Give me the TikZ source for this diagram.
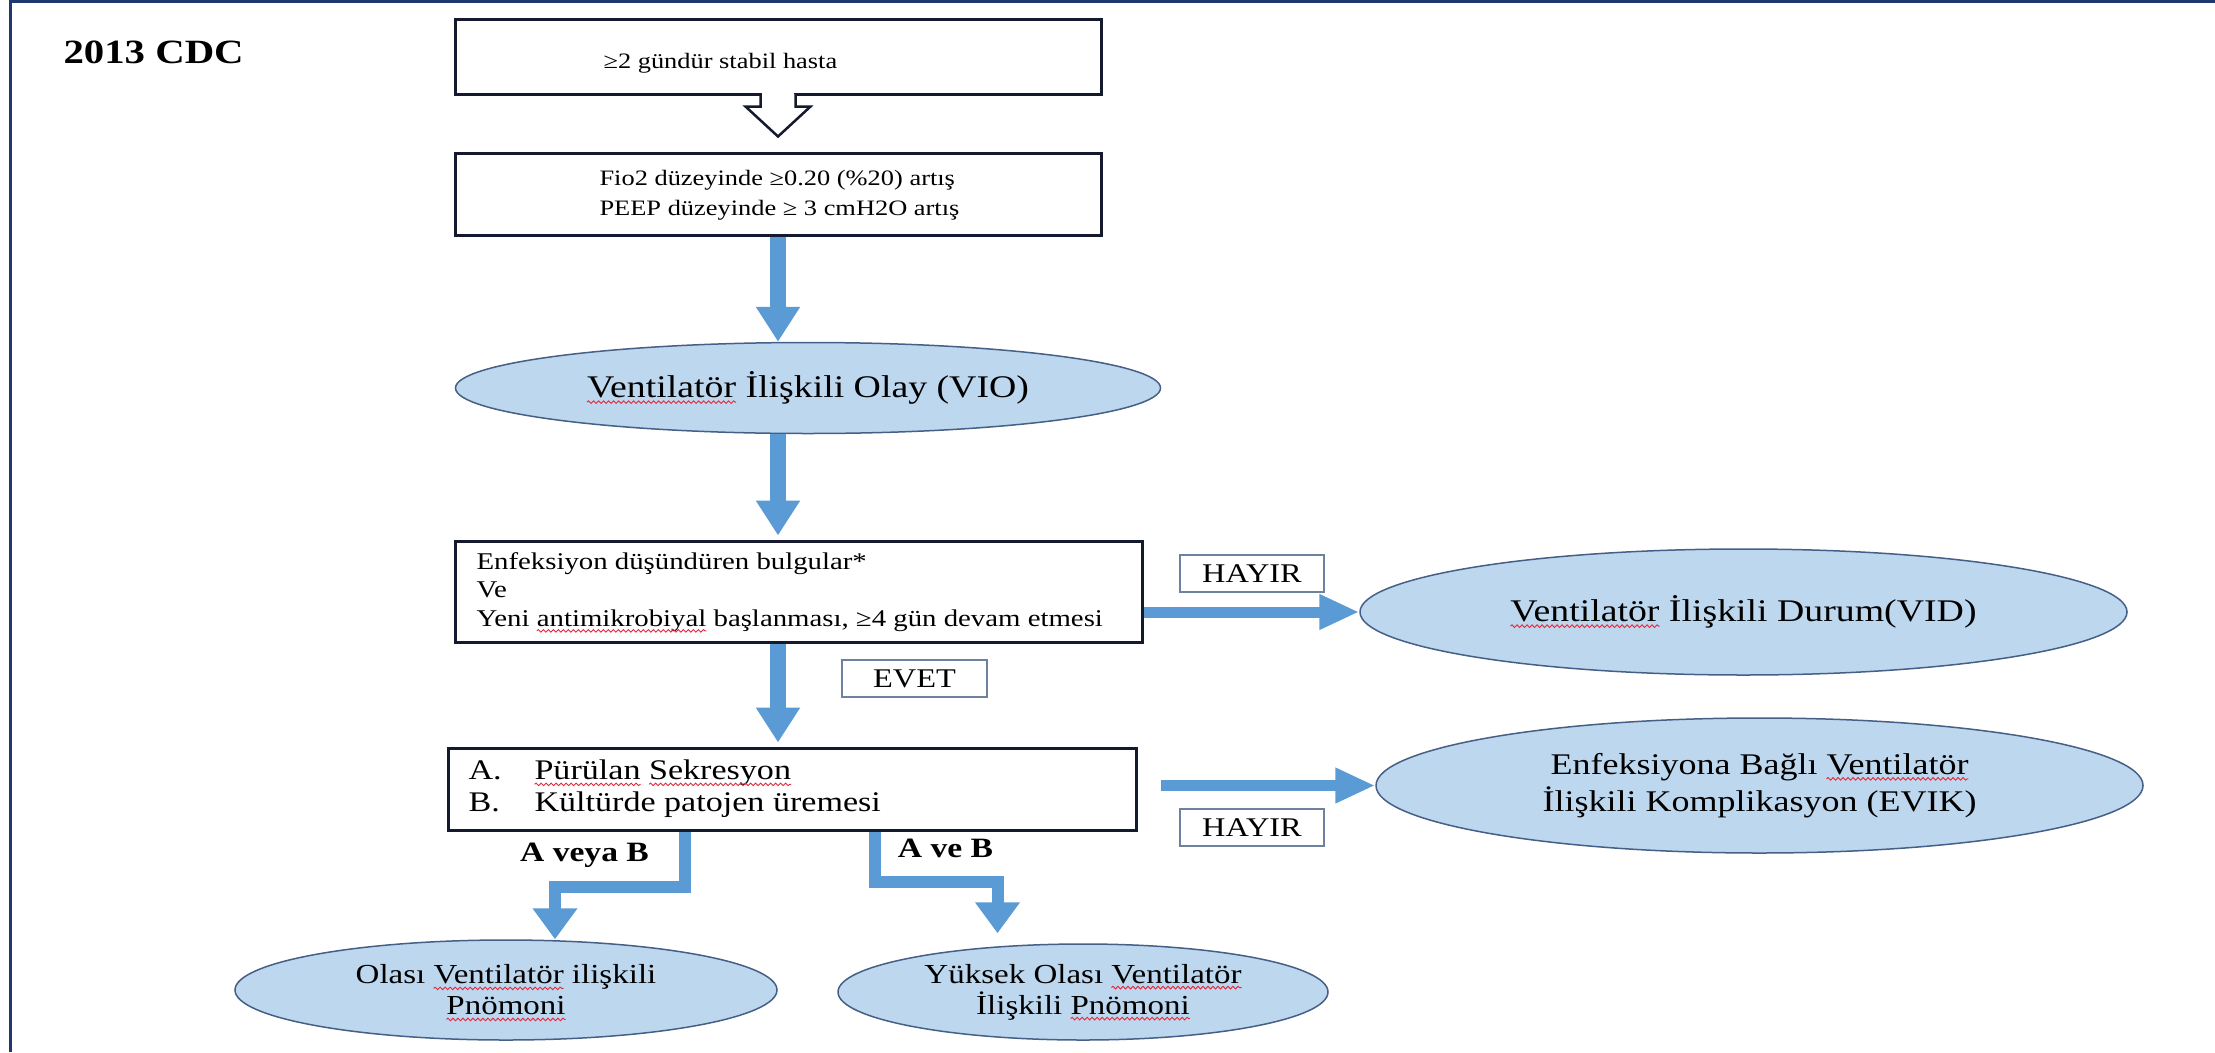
\documentclass[tikz,border=0pt]{standalone}
\usepackage{fontspec}
\setmainfont{Liberation Serif}[FakeStretch=1.2]
\usetikzlibrary{arrows.meta,shapes.geometric,calc,decorations.pathmorphing}

\definecolor{navy}{RGB}{31,56,112}
\definecolor{boxline}{RGB}{20,25,45}
\definecolor{ellfill}{RGB}{189,215,238}
\definecolor{elldraw}{RGB}{70,95,135}
\definecolor{arrowblue}{RGB}{91,155,213}
\definecolor{lblline}{RGB}{110,130,160}
\definecolor{spell}{RGB}{230,40,60}

\newcommand\fs[2]{\fontsize{#1}{#2}\selectfont}
\newcommand\sq[1]{\tikz[baseline=(w.base)]{\node[shape=rectangle,draw=none,fill=none,inner sep=0pt,outer sep=0pt,minimum width=0pt,minimum height=0pt,anchor=base,align=left](w){#1};\draw[overlay,spell,line width=0.9pt,decorate,decoration={snake,amplitude=1.3pt,segment length=5pt}] ([yshift=-4.5pt]w.base west) -- ([yshift=-4.5pt]w.base east);}}

\begin{document}
\begin{tikzpicture}[x=1pt,y=-1pt,
  box/.style={draw=boxline, line width=3pt, fill=white, inner sep=0pt},
  ell/.style={ellipse, draw=elldraw, line width=1.5pt, fill=ellfill, inner sep=0pt, align=center},
  lbl/.style={draw=lblline, line width=1.5pt, fill=white, inner sep=0pt, font=\fs{27}{30}},
  varrow/.style={arrowblue, line width=16pt, -{Triangle[width=42pt,length=35pt]}},
  harrow/.style={arrowblue, line width=11pt, -{Triangle[width=33pt,length=40pt]}},
  elbow/.style={arrowblue, line width=12pt, line join=miter, -{Triangle[width=43pt,length=31pt]}}
]
\useasboundingbox (0,0) rectangle (2215,1052);

% frame
\draw[navy, line width=3pt] (10,1052) -- (10,1.5) -- (2215,1.5);

% title
\node[anchor=base west, font=\bfseries\fs{34}{38}] (title) at (60,63) {2013 CDC};

% top box
\node[box, minimum width=646pt, minimum height=75pt] (top) at (778,56.5) {};
\node[anchor=base west, font=\fs{22}{26}] (toptxt) at (600,68) {≥2 gündür stabil hasta};

% hollow arrow
\coordinate (ts) at (top.south);
\fill[white] ($(ts)+(-16,-3)$) rectangle ($(ts)+(16,6)$);
\draw[boxline, line width=2.5pt, line join=miter, fill=white]
  ($(ts)+(-17.5,-1.5)$) -- ($(ts)+(-17.5,11)$) -- ($(ts)+(-32.5,11)$) -- ($(ts)+(0,41)$)
  -- ($(ts)+(32.5,11)$) -- ($(ts)+(17.5,11)$) -- ($(ts)+(17.5,-1.5)$);

% Fio2 box
\node[box, minimum width=646pt, minimum height=82pt] (fio) at (778,194) {};
\node[anchor=west, align=left, font=\fs{22}{30}] (fiotxt) at (596,195)
  {Fio2 düzeyinde ≥0.20 (\%20) artış\\PEEP düzeyinde ≥ 3 cmH2O artış};

% VIO
\node[ell, minimum width=705pt, minimum height=91pt, font=\fs{31.5}{36}] (vio) at (808,388)
  {\sq{Ventilatör} İlişkili Olay (VIO)};

% Enfeksiyon box
\node[box, minimum width=687pt, minimum height=101pt] (enf) at (798.5,591.5) {};
\node[anchor=west, align=left, font=\fs{24}{28.5}] (enftxt) at (473,592)
  {Enfeksiyon düşündüren bulgular*\\Ve\\Yeni \sq{antimikrobiyal} başlanması, ≥4 gün devam etmesi};

% Purulan box
\node[box, minimum width=688pt, minimum height=82pt] (pur) at (792,789) {};
\node[anchor=west, align=left, font=\fs{28.4}{32}] (purtxt) at (465,789)
  {\makebox[66pt][l]{A.}\sq{Pürülan} \sq{Sekresyon}\\\makebox[66pt][l]{B.}Kültürde patojen üremesi};

% right ellipses
\node[ell, minimum width=767pt, minimum height=126pt, font=\fs{31.5}{36}] (vid) at (1743.5,612)
  {\sq{Ventilatör} İlişkili Durum(VID)};
\node[ell, minimum width=767pt, minimum height=135pt, font=\fs{30}{37}] (evik) at (1759.5,785.5)
  {Enfeksiyona Bağlı \sq{Ventilatör}\\İlişkili Komplikasyon (EVIK)};

% bottom ellipses
\node[ell, minimum width=542pt, minimum height=100pt, font=\fs{27.5}{31}] (olasi) at (506,990)
  {Olası \sq{Ventilatör} ilişkili\\\sq{Pnömoni}};
\node[ell, minimum width=490pt, minimum height=96pt, font=\fs{27.5}{31}] (yuk) at (1083,992)
  {Yüksek Olası \sq{Ventilatör}\\İlişkili \sq{Pnömoni}};

% labels
\node[lbl, minimum width=145pt, minimum height=37pt] (evet) at (914.5,678.5) {EVET};
\node[lbl, minimum width=144pt, minimum height=37pt] (hayir1) at (1252,573.5) {HAYIR};
\node[lbl, minimum width=144pt, minimum height=37pt] (hayir2) at (1252,827.5) {HAYIR};
\node[font=\bfseries\fs{28}{30}] (aveyab) at (584.5,855) {A veya B};
\node[font=\bfseries\fs{28}{30}] (aveb) at (945.5,848) {A ve B};

% arrows
\draw[varrow] (fio.south) -- (fio.south |- vio.north);
\draw[varrow] (fio.south |- vio.south) -- ($(fio.south |- enf.north)+(0,-4)$);
\draw[varrow] (fio.south |- enf.south) -- ($(fio.south |- pur.north)+(0,-4)$);
\draw[harrow] (vid.west -| enf.east) -- (vid.west);
\draw[harrow] ($(evik.west -| pur.east)+(23,0)$) -- (evik.west);

\coordinate (lb1) at (685,887);
\coordinate (lb2) at (555,887);
\coordinate (rb1) at (875,881.5);
\coordinate (rb2) at (997.5,881.5);
\draw[elbow] (pur.south -| lb1) -- (lb1) -- (lb2) -- (lb2 |- olasi.north);
\draw[elbow] (pur.south -| rb1) -- (rb1) -- (rb2) -- ($(rb2 |- yuk.north)+(0,-10)$);
\end{tikzpicture}
\end{document}
